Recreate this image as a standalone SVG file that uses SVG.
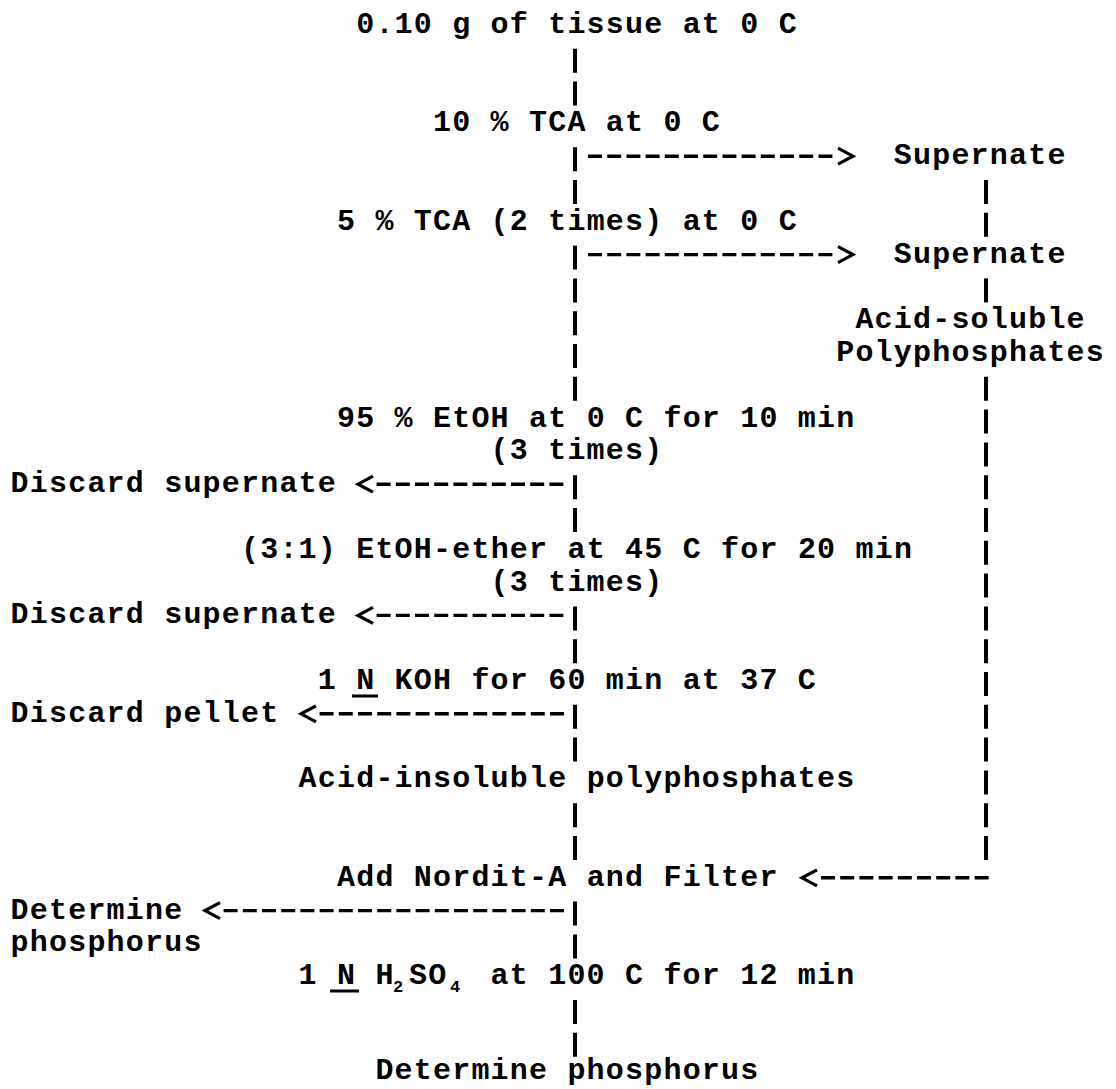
<svg xmlns="http://www.w3.org/2000/svg" width="1116" height="1089" viewBox="0 0 1116 1089">
<style>
text { font-family: "Liberation Mono", "DejaVu Sans Mono", monospace; font-size: 30px; font-weight: bold; letter-spacing: 1.2px; fill: #000; }
.sub { font-size: 17px; letter-spacing: 0px; }
.v { stroke: #000; stroke-width: 4; stroke-dasharray: 24 8.8; fill: none; }
.h { stroke: #000; stroke-width: 3.4; stroke-dasharray: 14 5.2; fill: none; }
.ah { fill: none; stroke: #000; stroke-width: 3.2; }
.ul { stroke: #000; stroke-width: 3; }
</style>
<defs>
<path id="ar" class="ah" d="M-15,-8 L0,0 L-15,8"/>
<path id="al" class="ah" d="M15,-8 L0,0 L15,8"/>
</defs>
<rect width="1116" height="1089" fill="#fff"/>
<g id="connectors">
<path class="v" d="M575,48.8V105.6"/>
<path class="v" d="M575,147.2V204"/>
<path class="v" d="M575,245.6V400.8"/>
<path class="v" d="M575,475.2V532"/>
<path class="v" d="M575,606.4V663.2"/>
<path class="v" d="M575,704.8V761.6"/>
<path class="v" d="M575,803.2V860"/>
<path class="v" d="M575,901.6V958.4"/>
<path class="v" d="M575,1000V1056.8"/>
<path class="v" d="M986,180V236.8"/>
<path class="v" d="M986,278.4V302.4"/>
<path class="v" d="M986,376.8V860"/>
<path class="h" d="M588,156.2H833"/>
<use href="#ar" x="853" y="156.2"/>
<path class="h" d="M588,254.6H833"/>
<use href="#ar" x="853" y="254.6"/>
<path class="h" d="M376.6,484.2H564"/>
<use href="#al" x="358" y="484.2"/>
<path class="h" d="M376.6,615.4H564"/>
<use href="#al" x="358" y="615.4"/>
<path class="h" d="M319.6,713.8H564"/>
<use href="#al" x="301" y="713.8"/>
<path class="h" d="M821,877.8H989"/>
<use href="#al" x="802" y="877.8"/>
<path class="h" d="M223.6,910.6H564"/>
<use href="#al" x="205" y="910.6"/>
</g>
<g id="n-tissue"><text x="356.2" y="33">0.10 g of tissue at 0 C</text></g>
<g id="n-tca10"><text x="433" y="131.4">10 % TCA at 0 C</text></g>
<g id="n-super1"><text x="893.8" y="164.2">Supernate</text></g>
<g id="n-tca5"><text x="337" y="229.8">5 % TCA (2 times) at 0 C</text></g>
<g id="n-super2"><text x="893.8" y="262.6">Supernate</text></g>
<g id="n-acidsol"><text x="855.4" y="328.2">Acid-soluble</text><text x="836.2" y="361">Polyphosphates</text></g>
<g id="n-etoh"><text x="337" y="426.6">95 % EtOH at 0 C for 10 min</text><text x="490.6" y="459.4">(3 times)</text></g>
<g id="n-discard1"><text x="10.6" y="492.2">Discard supernate</text></g>
<g id="n-ether"><text x="241" y="557.8">(3:1) EtOH-ether at 45 C for 20 min</text><text x="490.6" y="590.6">(3 times)</text></g>
<g id="n-discard2"><text x="10.6" y="623.4">Discard supernate</text></g>
<g id="n-koh"><text x="317.8" y="689">1 N KOH for 60 min at 37 C</text><line class="ul" x1="352" y1="696" x2="378" y2="696"/></g>
<g id="n-pellet"><text x="10.6" y="721.8">Discard pellet</text></g>
<g id="n-acidinsol"><text x="298.6" y="787.4">Acid-insoluble polyphosphates</text></g>
<g id="n-nordit"><text x="337" y="885.8">Add Nordit-A and Filter</text></g>
<g id="n-det1"><text x="10.6" y="918.6">Determine</text><text x="10.6" y="951.4">phosphorus</text></g>
<g id="n-h2so4"><text x="298.6" y="984.2">1 N H<tspan class="sub" x="393" dy="8">2</tspan><tspan x="409" dy="-8">SO</tspan><tspan class="sub" x="450" dy="8">4</tspan><tspan x="471.4" dy="-8"> at 100 C for 12 min</tspan></text><line class="ul" x1="330" y1="991" x2="359" y2="991"/></g>
<g id="n-det2"><text x="375.4" y="1079">Determine phosphorus</text></g>
</svg>
